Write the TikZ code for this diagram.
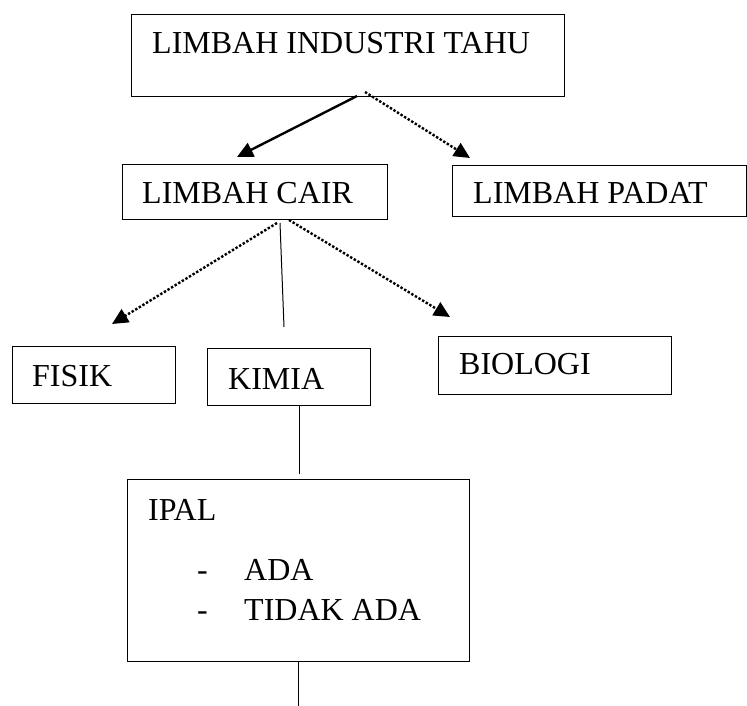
\documentclass[tikz,border=0pt]{standalone}
\usepackage{fontspec}
\setmainfont{Liberation Serif}
\usetikzlibrary{arrows.meta}
\begin{document}
\begin{tikzpicture}[x=1pt,y=-1pt,
  box/.style={draw,line width=1pt,inner sep=0pt,anchor=north west},
  lbl/.style={anchor=base west,inner sep=0pt,font=\fontsize{32}{36}\selectfont},
  solidarrow/.style={line width=2.4pt,-{Triangle[length=16pt,width=15pt]}},
  dotarrow/.style={line width=2.4pt,dash pattern=on 2.4pt off 1.8pt,-{Triangle[length=16pt,width=15pt]}},
  thinline/.style={line width=1pt}]
\useasboundingbox (0,0) rectangle (747,706);

% boxes
\node[box,minimum width=433pt,minimum height=82pt] (top) at (131,14) {};
\node[box,minimum width=265pt,minimum height=55pt] (cair) at (122,164) {};
\node[box,minimum width=294pt,minimum height=51pt] (padat) at (452,165) {};
\node[box,minimum width=163pt,minimum height=57pt] (fisik) at (12,346) {};
\node[box,minimum width=163pt,minimum height=57pt] (kimia) at (207,348) {};
\node[box,minimum width=233pt,minimum height=58pt] (bio) at (438,336) {};
\node[box,minimum width=342pt,minimum height=182pt] (ipal) at (127,479) {};

% labels
\node[lbl] (ttop) at (152,54) {LIMBAH INDUSTRI TAHU};
\node[lbl] (tcair) at (142,204) {LIMBAH CAIR};
\node[lbl] (tpadat) at (473,203) {LIMBAH PADAT};
\node[lbl] (tfisik) at (32,386) {FISIK};
\node[lbl] (tkimia) at (228,389) {KIMIA};
\node[lbl] (tbio) at (459,374) {BIOLOGI};
\node[lbl] (tipal) at (148,520) {IPAL};
\node[lbl] (d1) at (197,580) {-};
\node[lbl] (tada) at (244,580) {ADA};
\node[lbl] (d2) at (197,620) {-};
\node[lbl] (ttidak) at (244,620) {TIDAK ADA};

% connector end points
\coordinate (s1) at (357,96);
\coordinate (e1) at (237,157);
\coordinate (s2) at (365,92);
\coordinate (e2) at (470,158);
\coordinate (s3) at (277,223);
\coordinate (e3) at (112,324);
\coordinate (s4) at (280,223);
\coordinate (e4) at (284,327);
\coordinate (s5) at (289,220);
\coordinate (e5) at (450,317);
\coordinate (s6) at (299,405);
\coordinate (e6) at (299,474);
\coordinate (s7) at (298,661);
\coordinate (e7) at (298,706);

\draw[solidarrow] (s1) -- (e1);
\draw[dotarrow] (s2) -- (e2);
\draw[dotarrow] (s3) -- (e3);
\draw[thinline] (s4) -- (e4);
\draw[dotarrow] (s5) -- (e5);
\draw[thinline] (s6) -- (e6);
\draw[thinline] (s7) -- (e7);
\end{tikzpicture}
\end{document}
